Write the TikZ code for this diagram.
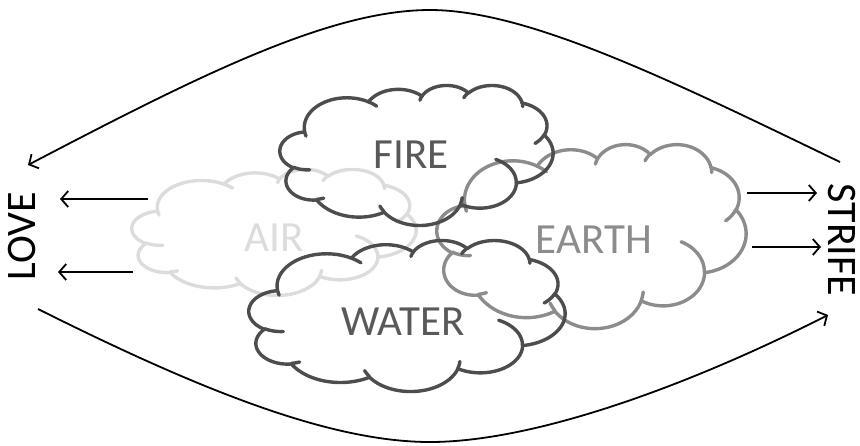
\documentclass[tikz,border=0pt]{standalone}
\usepackage{fontspec}
\setmainfont{Carlito}
\usetikzlibrary{arrows.meta}
\definecolor{darkc}{HTML}{4D4D4D}
\definecolor{darkt}{HTML}{595959}
\definecolor{airc}{HTML}{DCDCDC}
\definecolor{earthc}{HTML}{8C8C8C}
\tikzset{
  cl/.style={line width=3.4pt, line join=round, line cap=round},
  lbl/.style={font=\fontsize{43}{45}\selectfont, inner sep=0pt},
  side/.style={font=\fontsize{42}{44}\selectfont, inner sep=0pt},
  arr/.style={line width=1.8pt, -{Straight Barb[length=7pt,width=16pt]}},
}
% start point of an outline piece
\newcommand{\ostart}[2]{\def\px{#1}\def\py{#2}}
% one elliptic piece from the current point: wR, hR, start angle, sweep (visual angles)
\newcommand{\oseg}[4]{%
  \pgfmathsetmacro\ts{atan2((#1)*sin(#3),(#2)*cos(#3))}%
  \pgfmathsetmacro\dd{mod(atan2((#1)*sin((#3)+(#4)),(#2)*cos((#3)+(#4)))-\ts+720,360)}%
  \pgfmathsetmacro\te{\ts+\dd}%
  \pgfmathsetmacro\ccx{\px-(#1)*cos(\ts)}%
  \pgfmathsetmacro\ccy{\py-(#2)*sin(\ts)}%
  \draw[cl] plot[domain=\ts:\te, samples=36, variable=\t, smooth] ({\ccx+(#1)*cos(\t)},{\ccy+(#2)*sin(\t)});%
  \pgfmathsetmacro\px{\ccx+(#1)*cos(\te)}%
  \pgfmathsetmacro\py{\ccy+(#2)*sin(\te)}%
}
% #1 left, #2 top, #3 width, #4 height, #5 colour
\newcommand{\mycloud}[5]{%
\begin{scope}[shift={(#1,#2)}, x={1pt*#3/432}, y={-1pt*#4/432}, draw=#5]
\ostart{39}{143.7}%
\oseg{67.53}{91.90}{-190.4875}{123.7805}%
\oseg{53.33}{72.67}{-144.1024}{89.9452}%
\oseg{43.65}{59.45}{-145.8079}{99.7230}%
\oseg{48.57}{65.95}{-130.9861}{117.2417}%
\oseg{53.33}{72.73}{-78.7089}{109.0269}%
\oseg{67.75}{92.20}{-46.2673}{130.2690}%
\oseg{57.85}{78.67}{0.6250}{114.0333}%
\oseg{67.52}{92.15}{22.4516}{115.1726}%
\oseg{77.20}{105.43}{66.2426}{75.7110}%
\oseg{43.60}{59.18}{-274.9421}{146.7356}%
\oseg{43.45}{59.45}{-246.8285}{152.5189}%
\ostart{46.93}{261.77}\oseg{43.45}{59.45}{86.7420}{26.4295}%
\ostart{69.28}{348.99}\oseg{43.60}{59.18}{73.6105}{11.4475}%
\ostart{164.78}{390.90}\oseg{67.52}{92.15}{137.6242}{14.0811}%
\ostart{288.27}{347.51}\oseg{67.52}{92.15}{6.4533}{15.9984}%
\ostart{341.29}{229.54}\oseg{57.85}{78.67}{-70.2924}{70.9174}%
\ostart{417.98}{153.54}\oseg{53.33}{72.73}{30.3180}{27.7515}%
\ostart{383.24}{54.26}\oseg{48.57}{65.95}{-13.7443}{14.8589}%
\ostart{290.78}{39.52}\oseg{48.57}{65.95}{-149.1815}{18.1954}%
\ostart{221.41}{47.20}\oseg{43.65}{59.45}{-163.4943}{17.6864}%
\ostart{140.00}{51.92}\oseg{67.53}{91.90}{-66.7070}{12.3194}%
\ostart{41.27}{157.89}\oseg{67.53}{91.90}{157.6544}{11.8582}%
\end{scope}}
\begin{document}
\begin{tikzpicture}[x=1pt,y=-1pt]
\useasboundingbox (0,0) rectangle (860,445);
\mycloud{132}{169}{284}{126}{airc}
\mycloud{437}{144}{309}{184}{earthc}
\mycloud{280}{85}{273}{140}{darkc}
\mycloud{249}{240}{316}{151}{darkc}
\node[lbl, text=airc] (airt) at (274,238) {AIR};
\node[lbl, text=earthc] (eartht) at (594,240) {EARTH};
\node[lbl, text=darkt] (firet) at (411,155) {FIRE};
\node[lbl, text=darkt] (watert) at (403,322) {WATER};
\node[side, rotate=90] (love) at (22,236) {LOVE};
\node[side, rotate=-90] (strife) at (842,240) {STRIFE};
\coordinate (la1) at (148,199); \coordinate (lb1) at (60,199);
\coordinate (la2) at (133,272); \coordinate (lb2) at (58,272);
\coordinate (sa1) at (747,193); \coordinate (sb1) at (817,193);
\coordinate (sa2) at (752,247); \coordinate (sb2) at (821,247);
\draw[arr] (la1) -- (lb1);
\draw[arr] (la2) -- (lb2);
\draw[arr] (sa1) -- (sb1);
\draw[arr] (sa2) -- (sb2);
\coordinate (tr) at (840,162); \coordinate (tp) at (430,10); \coordinate (tl) at (28,165);
\coordinate (bl) at (38,309); \coordinate (bp) at (430,442); \coordinate (br) at (828,315);
\draw[arr] (tr) .. controls (680,85) and (530,10) .. (tp) .. controls (330,10) and (200,75) .. (tl);
\draw[arr] (bl) .. controls (200,390) and (330,442) .. (bp) .. controls (530,442) and (680,390) .. (br);
\end{tikzpicture}
\end{document}
